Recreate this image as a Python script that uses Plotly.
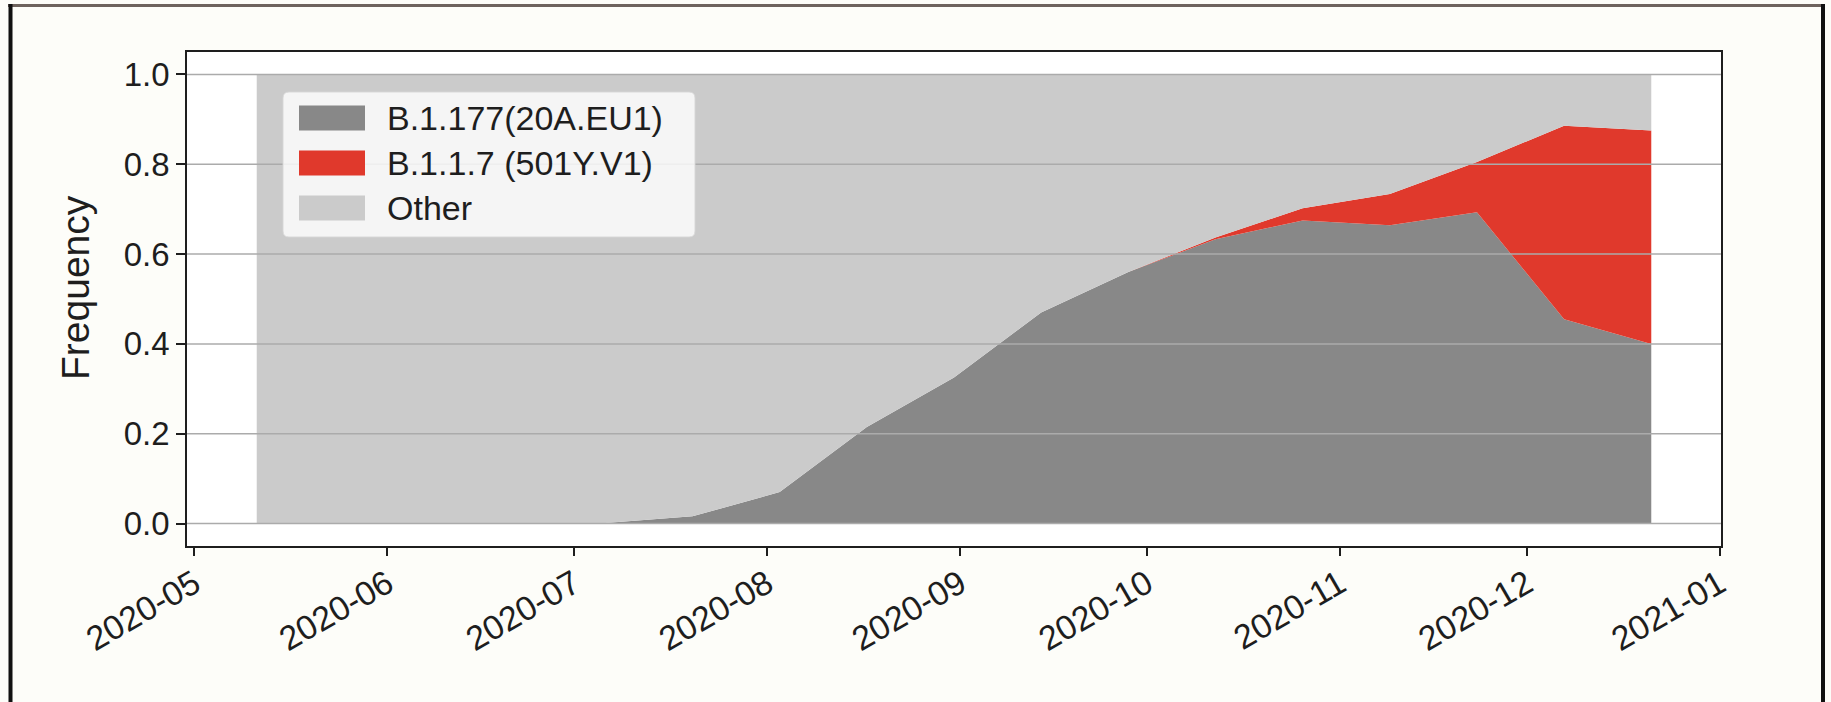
import plotly.graph_objects as go

# ---- data -------------------------------------------------------------
dates = [
    "2020-05-11", "2020-05-25", "2020-06-08", "2020-06-22", "2020-07-06",
    "2020-07-20", "2020-08-03", "2020-08-17", "2020-08-31", "2020-09-14",
    "2020-09-28", "2020-10-12", "2020-10-26", "2020-11-09", "2020-11-23",
    "2020-12-07", "2020-12-21",
]
b1177 = [0.0, 0.0, 0.0, 0.0, 0.001, 0.016, 0.07, 0.215, 0.325, 0.47,
         0.56, 0.633, 0.675, 0.664, 0.693, 0.455, 0.40]
b117 = [0.0, 0.0, 0.0, 0.0, 0.0, 0.0, 0.0, 0.0, 0.0, 0.0,
        0.0, 0.004, 0.027, 0.07, 0.112, 0.431, 0.475]
other = [1.0, 1.0, 1.0, 1.0, 0.999, 0.984, 0.93, 0.785, 0.675, 0.53,
         0.44, 0.363, 0.298, 0.266, 0.195, 0.114, 0.125]

series_names = ["B.1.177(20A.EU1)", "B.1.1.7 (501Y.V1)", "Other"]
series_values = [b1177, b117, other]
series_colors = ["#888888", "#e0392c", "#cbcbcb"]

y_ticks = [0.0, 0.2, 0.4, 0.6, 0.8, 1.0]
y_tick_labels = ["0.0", "0.2", "0.4", "0.6", "0.8", "1.0"]
x_ticks = ["2020-05-01", "2020-06-01", "2020-07-01", "2020-08-01", "2020-09-01",
           "2020-10-01", "2020-11-01", "2020-12-01", "2021-01-01"]
x_tick_labels = ["2020-05", "2020-06", "2020-07", "2020-08", "2020-09",
                 "2020-10", "2020-11", "2020-12", "2021-01"]

# ---- geometry (pixels) -------------------------------------------------
W, H = 1831, 702
PL, PR, PT, PB = 187, 1721, 52, 546     # plot-area edges
FONT = "Liberation Sans, Arial, Helvetica, sans-serif"
INK = "#1e1e1e"


def px_x(x):
    return (x - PL) / (PR - PL)


def px_y(y):
    return (PB - y) / (PB - PT)


fig = go.Figure()

for name, vals, col in zip(series_names, series_values, series_colors):
    fig.add_trace(go.Scatter(
        x=dates, y=vals, name=name, mode="lines",
        stackgroup="one", line=dict(width=0, color=col),
        fillcolor=col, showlegend=False, hoverinfo="skip",
    ))

shapes = []

# horizontal grid drawn over the filled areas
for v in y_ticks:
    shapes.append(dict(type="line", xref="paper", yref="y", x0=0, x1=1, y0=v, y1=v,
                       line=dict(color="#ababab", width=1.5), layer="above"))

# legend box with rounded corners
lx0, lx1, ly0, ly1, rad = 283, 695, 92, 237, 6
rx = rad / (PR - PL)
ry = rad / (PB - PT)
X0, X1, Y0, Y1 = px_x(lx0), px_x(lx1), px_y(ly1), px_y(ly0)
path = (f"M{X0 + rx},{Y0} L{X1 - rx},{Y0} Q{X1},{Y0} {X1},{Y0 + ry} "
        f"L{X1},{Y1 - ry} Q{X1},{Y1} {X1 - rx},{Y1} L{X0 + rx},{Y1} "
        f"Q{X0},{Y1} {X0},{Y1 - ry} L{X0},{Y0 + ry} Q{X0},{Y0} {X0 + rx},{Y0} Z")
shapes.append(dict(type="path", xref="paper", yref="paper", path=path,
                   fillcolor="rgba(255,255,255,0.8)",
                   line=dict(color="rgba(215,215,215,0.9)", width=1), layer="above"))

annotations = []
row_y = [118, 163, 208]
for name, col, ry_px in zip(series_names, series_colors, row_y):
    shapes.append(dict(type="rect", xref="paper", yref="paper",
                       x0=px_x(299), x1=px_x(365), y0=px_y(ry_px + 12.5), y1=px_y(ry_px - 12.5),
                       fillcolor=col, line=dict(width=0), layer="above"))
    annotations.append(dict(text=name, xref="paper", yref="paper",
                            x=px_x(385), y=px_y(ry_px), xanchor="left", yanchor="middle",
                            showarrow=False, font=dict(family=FONT, size=34, color=INK)))

# y-axis title
annotations.append(dict(text="Frequency", xref="paper", yref="paper",
                        x=px_x(75), y=px_y(288), xanchor="center", yanchor="middle",
                        textangle=-90, showarrow=False,
                        font=dict(family=FONT, size=39, color=INK)))

# outer page frame
shapes.append(dict(type="line", xref="paper", yref="paper",
                   x0=px_x(8), x1=px_x(1825), y0=px_y(5.5), y1=px_y(5.5),
                   line=dict(color="#6e635e", width=3), layer="above"))
shapes.append(dict(type="line", xref="paper", yref="paper",
                   x0=px_x(10.5), x1=px_x(10.5), y0=px_y(4), y1=px_y(702),
                   line=dict(color="#111111", width=4), layer="above"))
shapes.append(dict(type="line", xref="paper", yref="paper",
                   x0=px_x(1823), x1=px_x(1823), y0=px_y(4), y1=px_y(702),
                   line=dict(color="#111111", width=4), layer="above"))

tick_font = dict(family=FONT, size=33, color=INK)

fig.update_layout(
    width=W, height=H,
    margin=dict(l=PL, r=W - PR, t=PT, b=H - PB, autoexpand=False),
    paper_bgcolor="#fdfdf9",
    plot_bgcolor="#ffffff",
    showlegend=False,
    shapes=shapes,
    annotations=annotations,
    xaxis=dict(
        type="date",
        range=["2020-04-29 19:12", "2021-01-01 04:48"],
        tickvals=x_ticks, ticktext=x_tick_labels, tickangle=-30,
        ticks="outside", ticklen=8, tickwidth=1.5, tickcolor=INK,
        ticklabelstandoff=-5,
        showline=True, linecolor=INK, linewidth=1.5, mirror=True,
        showgrid=False, zeroline=False, tickfont=dict(family=FONT, size=34, color=INK),
    ),
    yaxis=dict(
        range=[-0.05, 1.05],
        tickvals=y_ticks, ticktext=y_tick_labels,
        ticks="outside", ticklen=9, tickwidth=1.5, tickcolor=INK,
        showline=True, linecolor=INK, linewidth=1.5, mirror=True,
        showgrid=False, zeroline=False, tickfont=tick_font,
    ),
    yaxis2=dict(
        range=[-0.05, 1.05], overlaying="y", side="right",
        tickvals=y_ticks, ticktext=y_tick_labels,
        ticks="outside", ticklen=9, tickwidth=1.5, tickcolor=INK,
        showline=False, showgrid=False, zeroline=False, tickfont=tick_font,
    ),
)

fig.write_html("out.html")
